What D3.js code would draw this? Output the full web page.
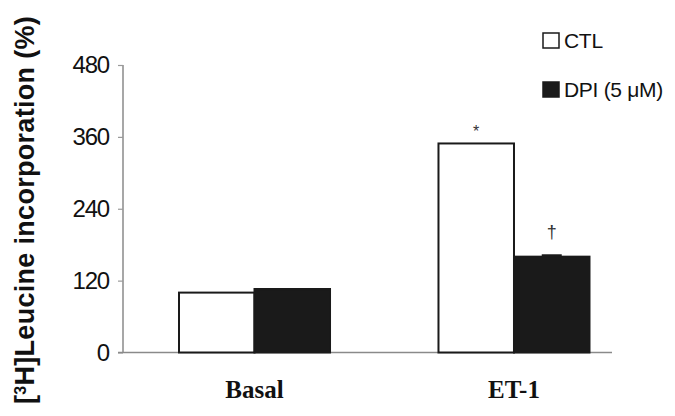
<!DOCTYPE html>
<html>
<head>
<meta charset="utf-8">
<script src="https://cdn.jsdelivr.net/npm/d3@7"></script>
<style>
  html, body { margin: 0; padding: 0; background: #fff; }
  svg { display: block; }
</style>
</head>
<body>
<svg id="chart" width="675" height="416"></svg>
<script>
// Leucine incorporation, % of basal control
const categories = ["Basal", "ET-1"];
const seriesNames = ["CTL", "DPI (5 μM)"];
const ctlValues = [100, 349];
const dpiValues = [106, 160];
const dpiErrors = [0, 4];
const yTicks = [0, 120, 240, 360, 480];
// significance marks drawn above bars: [category, series, symbol]
const marks = [["ET-1", "CTL", "*"], ["ET-1", "DPI (5 μM)", "†"]];

const svg = d3.select("#chart");

const x0 = d3.scaleBand().domain(categories)
  .range([179, 589.5]).paddingInner(0.418).paddingOuter(0);
const x1 = d3.scaleBand().domain(seriesNames).range([0, x0.bandwidth()]);
const y = d3.scaleLinear().domain([0, 480]).range([352.5, 65]);

const colors = { "CTL": "#ffffff", "DPI (5 μM)": "#1a1a1a" };

// y axis
const yAxis = d3.axisLeft(y).tickValues(yTicks).tickSize(5).tickPadding(9);
const gy = svg.append("g").attr("transform", "translate(123,0)").call(yAxis);
gy.select(".domain").attr("stroke", "#8a8a8a").attr("stroke-width", 1.5).attr("d", "M0,65V352.5");
gy.selectAll(".tick line").attr("stroke", "#9a9a9a").attr("stroke-width", 1.2);
gy.selectAll(".tick text")
  .attr("fill", "#111")
  .style("font-family", "'Liberation Sans', Arial, sans-serif")
  .style("font-size", "24px")
  .style("letter-spacing", "-1.2px");

// baseline
svg.append("line")
  .attr("x1", 118).attr("x2", 612)
  .attr("y1", y(0)).attr("y2", y(0))
  .attr("stroke", "#8a8a8a").attr("stroke-width", 1.5);

// bars
const rows = categories.map((c, i) => [
  { cat: c, s: seriesNames[0], v: ctlValues[i], e: 0 },
  { cat: c, s: seriesNames[1], v: dpiValues[i], e: dpiErrors[i] }
]);
const groups = svg.append("g").selectAll("g").data(rows).join("g")
  .attr("transform", d => `translate(${x0(d[0].cat)},0)`);

groups.selectAll("rect").data(d => d).join("rect")
  .attr("x", d => x1(d.s))
  .attr("y", d => y(d.v))
  .attr("width", x1.bandwidth())
  .attr("height", d => y(0) - y(d.v))
  .attr("fill", d => colors[d.s])
  .attr("stroke", "#1a1a1a")
  .attr("stroke-width", 2);

// error caps
groups.selectAll("rect.err").data(d => d.filter(r => r.e > 0)).join("rect")
  .attr("class", "err")
  .attr("x", d => x1(d.s) + x1.bandwidth() / 2 - 10)
  .attr("y", d => y(d.v + d.e))
  .attr("width", 20)
  .attr("height", d => y(d.v) - y(d.v + d.e) + 1)
  .attr("fill", "#1a1a1a");

// significance symbols
const valueOf = (c, s) => {
  const i = categories.indexOf(c);
  return s === "CTL" ? ctlValues[i] : dpiValues[i] + dpiErrors[i];
};
svg.append("g").selectAll("text").data(marks).join("text")
  .attr("x", d => x0(d[0]) + x1(d[1]) + x1.bandwidth() / 2)
  .attr("y", d => y(valueOf(d[0], d[1])) + (d[2] === "*" ? -6 : -16))
  .attr("text-anchor", "middle")
  .attr("fill", "#333")
  .style("font-family", "'Liberation Sans', Arial, sans-serif")
  .style("font-size", d => d[2] === "*" ? "16px" : "18px")
  .text(d => d[2]);

// category labels
svg.append("g").selectAll("text").data(categories).join("text")
  .attr("x", d => x0(d) + x0.bandwidth() / 2)
  .attr("y", 398)
  .attr("text-anchor", "middle")
  .attr("fill", "#111")
  .style("font-family", "'Liberation Serif', 'Times New Roman', serif")
  .style("font-weight", "bold")
  .style("font-size", "25px")
  .text(d => d);

// y axis title
const title = svg.append("text")
  .attr("transform", "translate(34,210) rotate(-90)")
  .attr("text-anchor", "middle")
  .attr("fill", "#111")
  .style("font-family", "'Liberation Sans', Arial, sans-serif")
  .style("font-weight", "bold")
  .style("font-size", "27px")
  .style("letter-spacing", "0.3px");
title.append("tspan").text("[");
title.append("tspan").attr("baseline-shift", "super").style("font-size", "16px").text("3");
title.append("tspan").text("H]Leucine incorporation (%)");

// legend
const legend = svg.append("g").selectAll("g").data(seriesNames).join("g")
  .attr("transform", (d, i) => `translate(543,${33 + i * 49})`);
legend.append("rect")
  .attr("width", 16).attr("height", 15)
  .attr("fill", d => colors[d])
  .attr("stroke", "#1a1a1a").attr("stroke-width", 1.5);
legend.append("text")
  .attr("x", 21).attr("y", 15)
  .attr("fill", "#111")
  .style("font-family", "'Liberation Sans', Arial, sans-serif")
  .style("font-size", "21px")
  .style("letter-spacing", "-0.3px")
  .text(d => d);
</script>
</body>
</html>
